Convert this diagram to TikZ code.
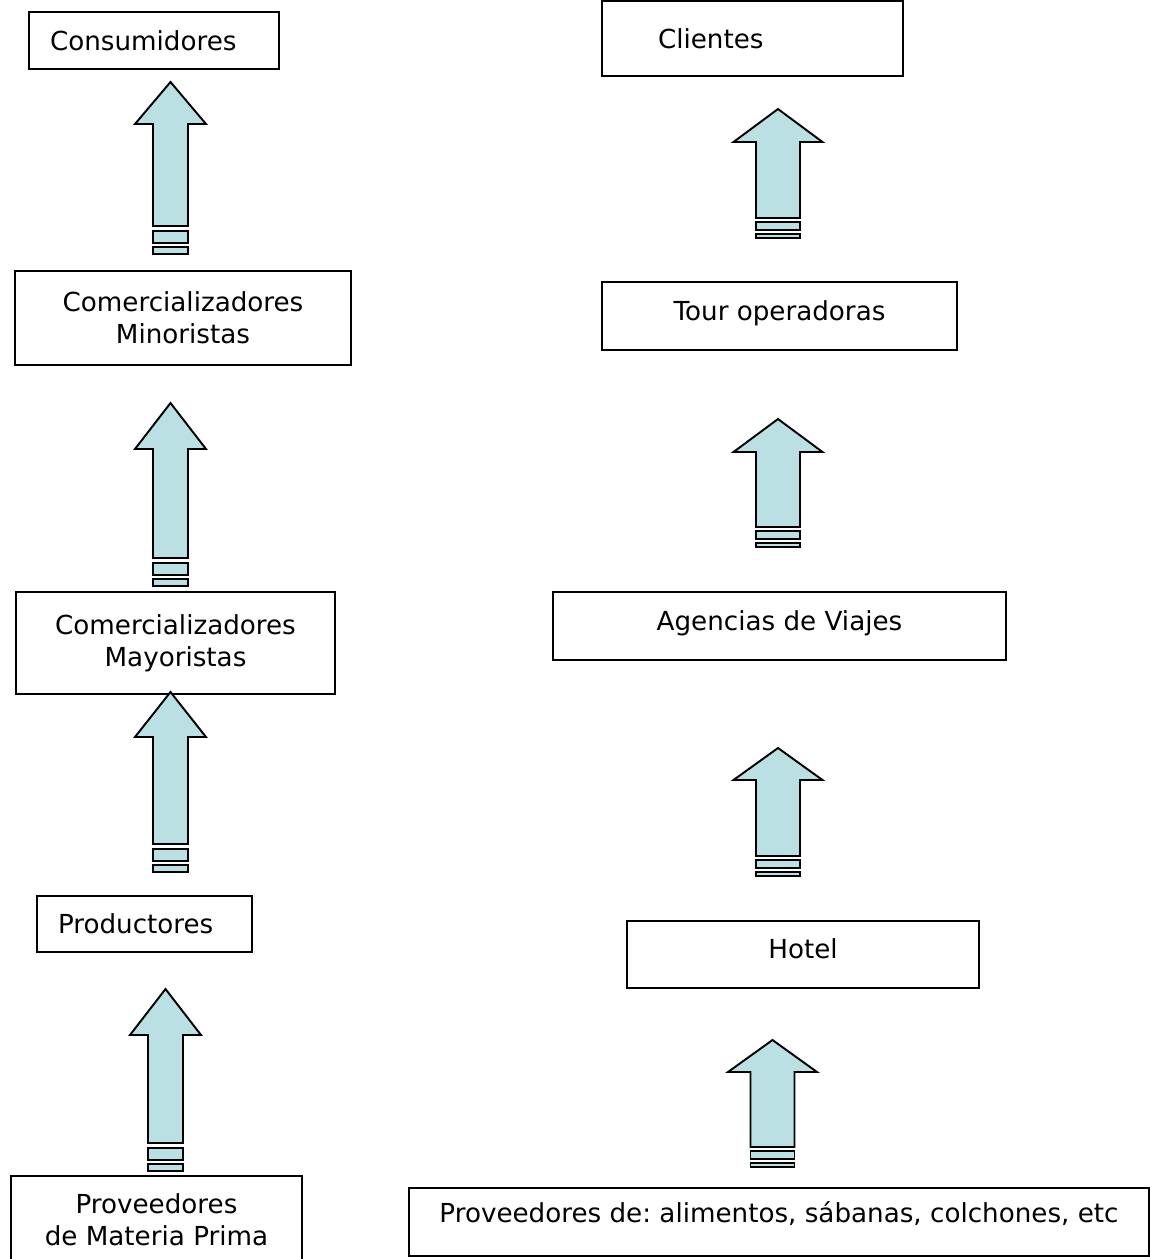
\documentclass[tikz,border=0pt]{standalone}
\usepackage{fontspec}
\setmainfont{DejaVu Sans}
\frenchspacing
\definecolor{celeste}{RGB}{187,224,227}

\newcommand{\flecha}[4]{%
  \draw[flechacuerpo] (#1-\cabeza,#3) -- (#1,#2) -- (#1+\cabeza,#3) -- (#1+\cuerpo,#3) -- (#1+\cuerpo,#4) -- (#1-\cuerpo,#4) -- (#1-\cuerpo,#3) -- cycle;
  \draw[flechacuerpo] (#1-\cuerpo,#4+\barA) rectangle (#1+\cuerpo,#4+\barB);
  \draw[flechacuerpo] (#1-\cuerpo,#4+\barC) rectangle (#1+\cuerpo,#4+\barD);
}

\begin{document}
\begin{tikzpicture}[x=0.02cm, y=-0.02cm,
    font=\fontsize{14.9}{18.4}\selectfont,
    caja/.style ={rectangle, draw, line width=1.1pt, inner sep=0pt, align=center},
    cajaizq/.style ={caja, align=left, inner xsep=0.42cm},
    cajaalta/.style ={caja, text height=0.4cm, text depth=#1},
    flechacuerpo/.style ={draw, line width=1.1pt, fill=celeste, line join=miter}]
   \useasboundingbox (0,0) rectangle (1150,1259);

   \node[cajaizq, text width=4.16cm, minimum width=5cm, minimum height=1.14cm] (consum) at (154,40.5) {Consumidores};
   \node[caja, minimum width=6.72cm, minimum height=1.88cm] (minor) at (183,318) {Comercializadores\\Minoristas};
   \node[caja, minimum width=6.38cm, minimum height=2.04cm] (mayor) at (175.5,643) {Comercializadores\\Mayoristas};
   \node[cajaizq, text width=3.46cm, minimum width=4.3cm, minimum height=1.12cm] (produc) at (144.5,924) {Productores};
   \node[caja, minimum width=5.82cm, minimum height=1.76cm] (materia) at (156.5,1220) {Proveedores\\de Materia Prima};

   \node[cajaizq, inner xsep=1.12cm, text width=3.78cm, minimum width=6.02cm, minimum height=1.5cm] (client) at (752.5,38.5) {Clientes};
   \node[cajaalta=0.24cm, minimum width=7.1cm, minimum height=1.36cm] (tour) at (779.5,316) {Tour operadoras};
   \node[cajaalta=0.24cm, minimum width=9.06cm, minimum height=1.36cm] (agencia) at (779.5,626) {Agencias de Viajes};
   \node[cajaalta=0.24cm, minimum width=7.04cm, minimum height=1.34cm] (hotel) at (803,954.5) {Hotel};
   \node[cajaalta=0.4cm, minimum width=14.8cm, minimum height=1.36cm] (provee) at (779,1222) {Proveedores de: alimentos, sábanas, colchones, etc};

   % flechas de la izquierda
   \def\cabeza{35.5}\def\cuerpo{17.5}
   \def\barA{5}\def\barB{17}\def\barC{21}\def\barD{28}
   \flecha{170.5}{82}{124}{226}
   \flecha{170.5}{403}{449}{558}
   \flecha{170.5}{692}{737}{844}
   \flecha{165.5}{989}{1035}{1143}

   % flechas de la derecha
   \def\cabeza{44.5}\def\cuerpo{22}
   \def\barA{4}\def\barB{12}\def\barC{16}\def\barD{20}
   \flecha{778}{109}{142}{218}
   \flecha{778}{419}{452}{527}
   \flecha{778}{748}{780}{856}
   \flecha{772.5}{1040}{1072}{1147}
\end{tikzpicture}
\end{document}
